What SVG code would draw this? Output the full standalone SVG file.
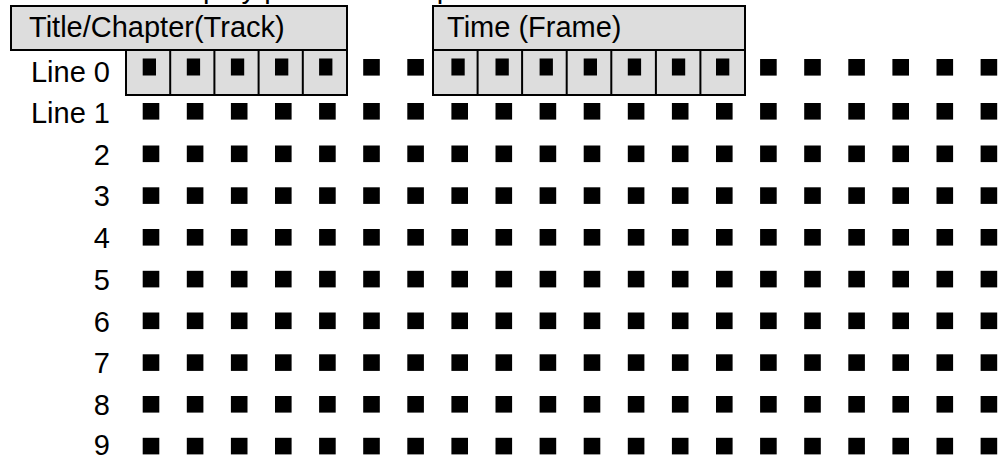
<svg xmlns="http://www.w3.org/2000/svg" width="1007" height="459" viewBox="0 0 1007 459">
<style>
text{font-family:"Liberation Sans",Arial,sans-serif;font-size:29px;fill:#000}
.lbl{text-anchor:end}
.box{fill:#dddddd;stroke:#000;stroke-width:2}
.div{stroke:#000;stroke-width:2}
.sq{fill:#000}
</style>
<defs>
<rect id="s" width="16.6" height="16.6" class="sq"/>
<rect id="c" width="13.3" height="17" class="sq"/>
</defs>
<rect width="1007" height="459" fill="#fff"/>
<text x="161" y="-2">Display position on a panel</text>
<g id="connectors"></g>
<g id="title-box">
<rect class="box" x="11" y="6" width="336" height="44"/>
<text x="29" y="37">Title/Chapter(Track)</text>
<rect class="box" x="126" y="50" width="221" height="45"/>
<path class="div" d="M170.2 50V95M214.4 50V95M258.6 50V95M302.8 50V95"/>
<use href="#c" x="142.7" y="58.5"/><use href="#c" x="186.8" y="58.5"/><use href="#c" x="230.9" y="58.5"/><use href="#c" x="275" y="58.5"/><use href="#c" x="319.1" y="58.5"/>
</g>
<g id="time-box">
<rect class="box" x="433" y="6" width="312" height="44"/>
<text x="447" y="37">Time (Frame)</text>
<rect class="box" x="433" y="50" width="312" height="45"/>
<path class="div" d="M477.6 50V95M522.1 50V95M566.7 50V95M611.3 50V95M655.9 50V95M700.4 50V95"/>
<use href="#c" x="451.4" y="58.5"/><use href="#c" x="495.5" y="58.5"/><use href="#c" x="539.6" y="58.5"/><use href="#c" x="583.7" y="58.5"/><use href="#c" x="627.8" y="58.5"/><use href="#c" x="671.9" y="58.5"/><use href="#c" x="716" y="58.5"/>
</g>
<g id="row-0">
<text class="lbl" x="110" y="82">Line 0</text>
<use href="#s" x="363.2" y="59"/><use href="#s" x="407.3" y="59"/>
<use href="#s" x="760.1" y="59"/><use href="#s" x="804.2" y="59"/><use href="#s" x="848.3" y="59"/><use href="#s" x="892.4" y="59"/><use href="#s" x="936.5" y="59"/><use href="#s" x="980.6" y="59"/>
</g>
<defs>
<g id="row">
<use href="#s" x="142.7"/><use href="#s" x="186.8"/><use href="#s" x="230.9"/><use href="#s" x="275"/><use href="#s" x="319.1"/><use href="#s" x="363.2"/><use href="#s" x="407.3"/><use href="#s" x="451.4"/><use href="#s" x="495.5"/><use href="#s" x="539.6"/><use href="#s" x="583.7"/><use href="#s" x="627.8"/><use href="#s" x="671.9"/><use href="#s" x="716"/><use href="#s" x="760.1"/><use href="#s" x="804.2"/><use href="#s" x="848.3"/><use href="#s" x="892.4"/><use href="#s" x="936.5"/><use href="#s" x="980.6"/>
</g>
</defs>
<g id="row-1"><text class="lbl" x="110" y="122.5">Line 1</text><use href="#row" y="103"/></g>
<g id="row-2"><text class="lbl" x="110" y="164.5">2</text><use href="#row" y="145.5"/></g>
<g id="row-3"><text class="lbl" x="110" y="206.3">3</text><use href="#row" y="187.3"/></g>
<g id="row-4"><text class="lbl" x="110" y="248">4</text><use href="#row" y="229"/></g>
<g id="row-5"><text class="lbl" x="110" y="289.8">5</text><use href="#row" y="270.8"/></g>
<g id="row-6"><text class="lbl" x="110" y="331.5">6</text><use href="#row" y="312.5"/></g>
<g id="row-7"><text class="lbl" x="110" y="373.3">7</text><use href="#row" y="354.3"/></g>
<g id="row-8"><text class="lbl" x="110" y="415">8</text><use href="#row" y="396"/></g>
<g id="row-9"><text class="lbl" x="110" y="455">9</text><use href="#row" y="437.8"/></g>
</svg>
